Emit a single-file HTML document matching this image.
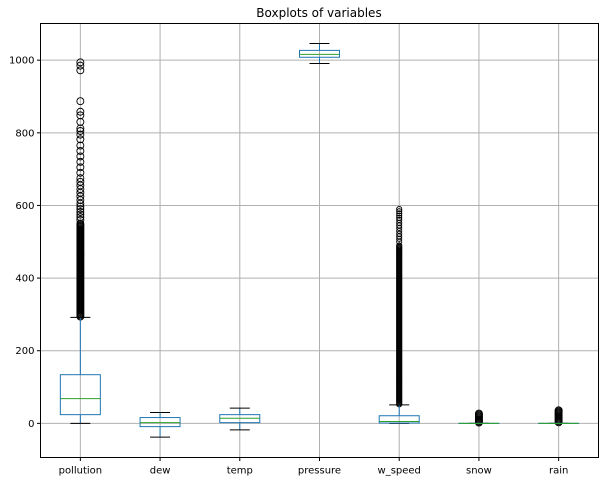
<!DOCTYPE html>
<html><head><meta charset="utf-8"><style>
body{margin:0;background:#fff;}
svg text{font-family:"DejaVu Sans","Liberation Sans",sans-serif;}
</style></head><body>
<svg id="chart" width="604" height="483" xmlns="http://www.w3.org/2000/svg">
<text x="319" y="17" text-anchor="middle" font-size="12">Boxplots of variables</text>
<g id="grid"></g>
<g id="yaxis"></g>
<g id="xaxis"></g>
<g id="boxes"></g>
<rect x="40.5" y="23.5" width="558" height="434" fill="none" stroke="#000" stroke-width="1"/>
</svg>
<script>
const categories=["pollution","dew","temp","pressure","w_speed","snow","rain"];
const q1=[24,-9,2,1008,1,0,0];
const medians=[68,2,14,1016,5,0,0];
const q3=[134,16,24,1027,21,0,0];
const whiskLo=[0,-38,-18,991,0,0,0];
const whiskHi=[292,30,42,1046,51,0,0];
const denseLo=[292,null,null,null,51,1,1];
const denseHi=[550,null,null,null,490,27,36];
const sparseOutliers=[[994,985,972,887,858,848,830,812,805,795,782,765,750,735,720,705,690,675,665,655,645,635,625,615,605,597,590,582,575,568,560],[],[],[],[500,508,515,522,530,538,545,552,560,566,572,578,584,590],[],[]];
const yTicks=[0,200,400,600,800,1000];
const yMin=-94,yMax=1101;
const L=40.5,R=598.5,T=23.5,B=457.5;
const NS="http://www.w3.org/2000/svg";
function y(v){return B-(v-yMin)/(yMax-yMin)*(B-T);}
function x(i){return L+(i+0.5)*(R-L)/categories.length;}
function mk(tag,attrs,parent){const e=document.createElementNS(NS,tag);for(const k in attrs)e.setAttribute(k,attrs[k]);parent.appendChild(e);return e;}
const grid=document.getElementById('grid'),ya=document.getElementById('yaxis'),xa=document.getElementById('xaxis'),bx=document.getElementById('boxes');
yTicks.forEach(t=>{
 const g=mk('line',{x1:L,x2:R,y1:y(t),y2:y(t),stroke:'#b0b0b0','stroke-width':1},grid);
 
 
 const tk=mk('line',{x1:L-3.5,x2:L,y1:y(t),y2:y(t),stroke:'#000'},ya);
 
 
 const tx=mk('text',{x:L-6,y:y(t)+3.5,'text-anchor':'end','font-size':10},ya);
 tx.textContent=t;
 
 
});
categories.forEach((c,i)=>{
 const cx=x(i);
 const g=mk('line',{x1:cx,x2:cx,y1:T,y2:B,stroke:'#b0b0b0'},grid);
 
 
 const tk=mk('line',{x1:cx,x2:cx,y1:B,y2:B+3.5,stroke:'#000'},xa);
 
 
 const tx=mk('text',{x:cx,y:B+16,'text-anchor':'middle','font-size':10},xa);
 tx.textContent=c;
 
 
 const grp=mk('g',{},bx);
 
 
 const hw=20,cw=10;
 const r=(c==='w_speed')?2.6:3.5;
 if(denseLo[i]!==null){
  const y1=y(denseHi[i]),y2=y(denseLo[i]);
  for(let p=y1;p<=y2;p+=1.0){mk('circle',{cx:cx,cy:p,r:r,fill:'none',stroke:'#000','stroke-width':0.9},grp);}
 }
 sparseOutliers[i].forEach(v=>{mk('circle',{cx:cx,cy:y(v),r:r,fill:'none',stroke:'#000','stroke-width':0.9},grp);});
 mk('line',{x1:cx,x2:cx,y1:y(q3[i]),y2:y(whiskHi[i]),stroke:'#1f77b4'},grp);
 mk('line',{x1:cx,x2:cx,y1:y(q1[i]),y2:y(whiskLo[i]),stroke:'#1f77b4'},grp);
 mk('line',{x1:cx-cw,x2:cx+cw,y1:y(whiskHi[i]),y2:y(whiskHi[i]),stroke:'#000'},grp);
 mk('line',{x1:cx-cw,x2:cx+cw,y1:y(whiskLo[i]),y2:y(whiskLo[i]),stroke:'#000'},grp);
 const top=y(q3[i]),bot=y(q1[i]);
 mk('rect',{x:cx-hw,y:top,width:2*hw,height:Math.max(bot-top,0.1),fill:'none',stroke:'#1f77b4'},grp);
 mk('line',{x1:cx-hw,x2:cx+hw,y1:y(medians[i]),y2:y(medians[i]),stroke:'#2ca02c'},grp);
});
</script>
</body></html>
